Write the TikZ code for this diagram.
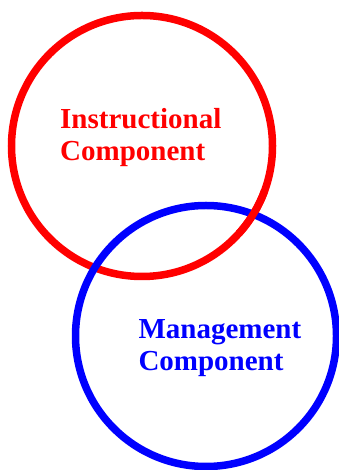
\documentclass[tikz,border=0pt]{standalone}
\usepackage{fontspec}
\setmainfont{Liberation Serif}
\usepackage{xcolor}
\usepackage{tikz}

\begin{document}
\begin{tikzpicture}[x=1pt, y=1pt, every node/.style = {inner sep=0, align=left, anchor=base west, font=\bfseries\fontsize{29}{32.4}\selectfont, }]

\useasboundingbox (0,0) rectangle (339,470);

\draw[red, line width=7.5pt] (142,324) circle [radius=130.5];
\draw[blue, line width=7.5pt] (206,134) circle [radius=130.5];
\draw[red, line width=7.5pt] (142,324) ++(-42:130.5) arc [radius=130.5, start angle=-42, end angle=-20];

\node (instructional) [text=red] at (60,309.3) {Instructional\\Component};
\node (management) [text=blue] at (138.3,99.3) {Management\\Component};
\end{tikzpicture}
\end{document}
